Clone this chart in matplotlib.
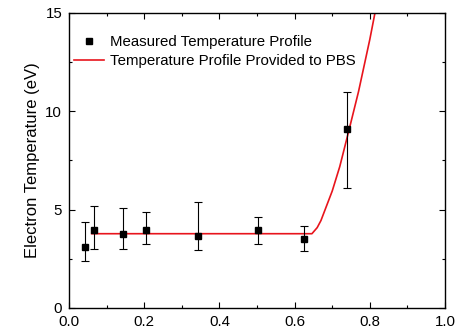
import matplotlib.pyplot as plt
from matplotlib.ticker import MultipleLocator
from matplotlib.lines import Line2D

plt.rcParams['font.family'] = ['Liberation Sans', 'DejaVu Sans']

# measured points
pos = [0.043, 0.066, 0.144, 0.204, 0.344, 0.503, 0.624, 0.740]
temp = [3.08, 3.97, 3.77, 3.97, 3.67, 3.97, 3.48, 9.09]
err_hi = [4.37, 5.18, 5.08, 4.88, 5.37, 4.63, 4.14, 11.0]
err_lo = [2.39, 3.00, 3.00, 3.25, 2.93, 3.25, 2.89, 6.09]

# profile given to PBS
prof_x = [0.060, 0.646, 0.66, 0.67, 0.70, 0.72, 0.745, 0.77, 0.80, 0.83]
prof_t = [3.77, 3.77, 4.08, 4.44, 5.94, 7.18, 9.07, 11.0, 13.65, 16.6]

yerr = [[t - lo for t, lo in zip(temp, err_lo)],
        [hi - t for t, hi in zip(temp, err_hi)]]

fig, ax = plt.subplots(figsize=(4.64, 3.31), dpi=100)
fig.subplots_adjust(left=0.149, right=0.959, top=0.961, bottom=0.070)

ax.errorbar(pos, temp, yerr=yerr, fmt='s', color='black', ms=5,
            elinewidth=0.8, capsize=3, capthick=0.8, zorder=3)
ax.plot(prof_x, prof_t, color='#e8141c', lw=1.2)

ax.set_xlim(0, 1)
ax.set_ylim(0, 15)
ax.xaxis.set_major_locator(MultipleLocator(0.2))
ax.xaxis.set_minor_locator(MultipleLocator(0.1))
ax.yaxis.set_major_locator(MultipleLocator(5))
ax.yaxis.set_minor_locator(MultipleLocator(2.5))
ax.xaxis.set_major_formatter(plt.FormatStrFormatter('%.1f'))
ax.tick_params(which='both', direction='in', top=True, right=True,
               labelsize=10.8, width=0.8)
ax.tick_params(which='major', length=4, pad=5)
ax.tick_params(which='minor', length=2.5)
for s in ax.spines.values():
    s.set_linewidth(1.0)
ax.set_ylabel('Electron Temperature (eV)', fontsize=12, labelpad=4)

handles = [Line2D([], [], ls='none', marker='s', color='black', ms=5),
           Line2D([], [], color='#e8141c', lw=1.2)]
labels = ['Measured Temperature Profile', 'Temperature Profile Provided to PBS']
ax.legend(handles, labels, loc='upper left', frameon=False, fontsize=10.8,
          bbox_to_anchor=(-0.01, 0.955), handlelength=2.0,
          handletextpad=0.4, labelspacing=0.35, borderaxespad=0.2)

fig.savefig('out.png', dpi=100)
